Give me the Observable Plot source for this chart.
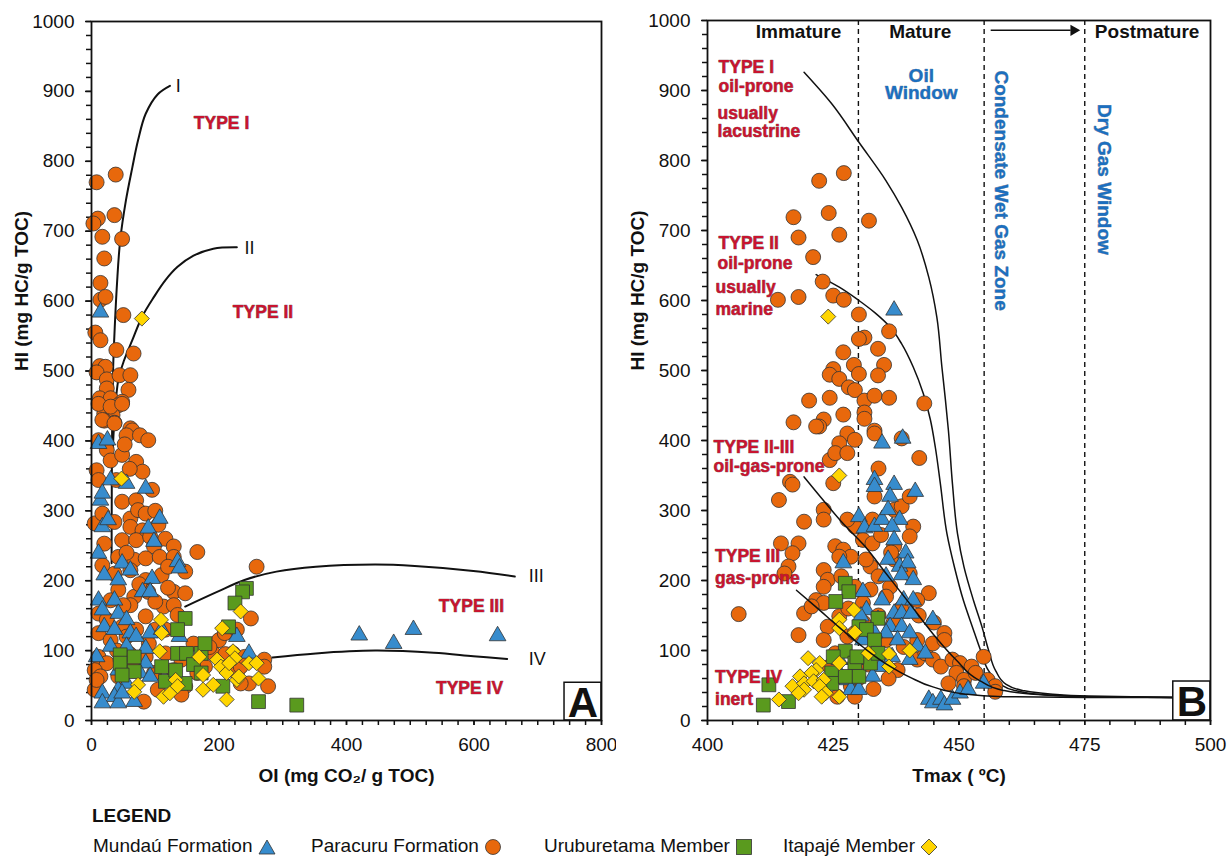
<!DOCTYPE html>
<html><head><meta charset="utf-8">
<script src="https://cdn.jsdelivr.net/npm/d3@7"></script>
<script src="https://cdn.jsdelivr.net/npm/@observablehq/plot@0.6"></script>
<style>
body{margin:0;background:#fff;font-family:"Liberation Sans",Arial,Helvetica,sans-serif;}
#wrap{position:relative;width:1232px;height:858px;overflow:hidden;}
#row{display:flex;position:absolute;left:0;top:0;}
.lg{position:absolute;font-size:19px;color:#111;white-space:nowrap;line-height:1;}
.lg svg{vertical-align:middle;}
</style></head><body>
<div id="wrap"><div id="row"></div>
<div class="lg" style="left:92px;top:806px;font-weight:bold;">LEGEND</div>
<div class="lg" style="left:93px;top:836px;">Mundaú Formation <svg width="18" height="16" viewBox="0 0 18 16"><path d="M9 1 L17 15 L1 15 Z" fill="#378ccd" stroke="#333" stroke-width="0.8"/></svg></div>
<div class="lg" style="left:311px;top:836px;">Paracuru Formation <svg width="18" height="18" viewBox="0 0 18 18"><circle cx="9" cy="9" r="7.5" fill="#e8680c" stroke="#333" stroke-width="0.8"/></svg></div>
<div class="lg" style="left:544px;top:836px;">Uruburetama Member <svg width="18" height="18" viewBox="0 0 18 18"><rect x="1.5" y="1.5" width="15" height="15" fill="#5a9a1e" stroke="#333" stroke-width="0.8"/></svg></div>
<div class="lg" style="left:783px;top:836px;">Itapajé Member <svg width="18" height="18" viewBox="0 0 18 18"><path d="M9 1 L17 9 L9 17 L1 9 Z" fill="#ffd500" stroke="#333" stroke-width="0.8"/></svg></div>
</div>
<script>
// ---------- Panel A data: [OI, HI] ----------
const aMundau = [[14,584],[11,396],[25,401],[30,344],[14,315],[17,325],[17,277],[26,287],[55,339],[85,332],[107,289],[89,275],[98,256],[11,239],[20,208],[42,201],[48,225],[61,215],[95,203],[135,227],[138,218],[80,184],[92,184],[11,172],[36,172],[17,158],[42,153],[55,144],[20,134],[36,130],[61,125],[70,120],[92,125],[110,130],[138,120],[85,103],[55,106],[30,106],[8,91],[85,82],[76,68],[92,63],[42,72],[55,53],[17,39],[42,44],[36,34],[17,25],[42,25],[67,27],[48,39],[228,120],[247,96],[420,122],[474,110],[505,130],[637,121]];
const aParacuru = [[8,770],[38,781],[10,718],[3,711],[36,723],[17,692],[48,689],[20,661],[14,626],[14,602],[22,606],[50,580],[6,555],[14,544],[39,530],[66,525],[13,507],[22,506],[8,498],[24,488],[44,494],[61,494],[58,473],[24,475],[13,461],[30,461],[48,456],[42,451],[20,439],[33,437],[20,429],[36,426],[61,418],
[11,453],[30,449],[48,453],[17,430],[36,425],[64,415],[55,408],[76,408],[89,401],[11,401],[24,387],[30,372],[48,380],[70,370],[8,358],[80,356],[11,344],[39,344],[48,313],[70,315],[5,282],[17,296],[36,284],[61,289],[73,301],[85,296],[61,277],[80,272],[48,258],[70,258],[92,263],[116,260],[98,249],[129,249],[166,241],[20,253],[17,222],[42,234],[67,230],[85,232],[107,234],[129,234],[147,213],[36,210],[61,215],[85,201],[110,208],[42,187],[67,177],[89,184],[129,184],[147,182],[30,172],[61,165],[85,149],[113,163],[129,165],[135,151],[11,153],[24,144],[48,134],[70,130],[116,130],[11,125],[30,115],[55,120],[11,91],[24,82],[5,72],[14,63],[5,44],[8,58],[42,63],[67,77],[85,91],[98,68],[116,96],[141,87],[129,72],[147,49],[141,37],[82,27],[104,44],[166,68],[178,77],[191,96],[200,115],[209,125],[228,130],[222,96],[228,68],[234,77],[247,53],[259,220],[250,146],[271,87],[271,77],[277,49],[240,91],[234,53],
[52,395],[60,360],[95,330],[100,300],[55,240],[105,280],[120,220],[75,195],[100,170],[120,190],[50,165],[40,100],[60,95],[90,110],[100,130],[160,110],[185,105],[210,95]];
const aUruburetama = [[243,189],[237,184],[225,168],[147,146],[135,130],[215,134],[45,94],[45,82],[67,91],[67,70],[48,65],[110,77],[116,56],[135,96],[149,96],[160,80],[172,96],[178,110],[147,53],[132,72],[172,68],[206,49],[262,27],[322,22]];
const aItapaje = [[79,575],[47,346],[109,144],[110,125],[107,99],[73,51],[67,41],[113,34],[123,39],[132,58],[135,49],[169,91],[175,65],[175,44],[191,51],[197,87],[203,77],[205,132],[212,68],[212,30],[222,99],[225,89],[228,58],[234,156],[231,63],[247,82],[259,82],[262,60],[216,82]];
// Kerogen type curves, panel A
const aCurveI = [[31.5,225],[31.8,330],[32.5,434],[34,506],[36,553],[40,625],[45,687],[54,744],[64,791],[73,830],[85,868],[104,896],[123,908]];
const aCurveII = [[33,380],[36,430],[42,487],[51,515],[64,544],[79,577],[98,606],[116,630],[135,649],[160,665],[191,675],[228,677]];
const aCurveIII = [[147,163],[197,184],[240,201],[290,213],[352,220],[445,223],[507,221],[599,214],[664,206]];
const aCurveIV = [[284,90],[352,96],[445,100],[537,97],[599,92],[652,88]];
const aCurveLabels = [{x:132,y:907,t:"I"},{x:240,y:676,t:"II"},{x:686,y:206,t:"III"},{x:686,y:87,t:"IV"}];
const aTypeLabels = [{x:204,y:854,t:"TYPE I"},{x:269,y:584,t:"TYPE II"},{x:596,y:163,t:"TYPE III"},{x:593,y:46,t:"TYPE IV"}];

// ---------- Panel B data: [Tmax, HI] ----------
const bMundau = [[437.1,586],[434.7,396],[438.8,403],[433.2,344],[433.2,334],[437.1,337],[436.3,320],[441.3,327],[430.1,291],[431.2,275],[433.2,277],[434.7,287],[435.9,301],[438.2,287],[436.7,277],[437.1,258],[439.4,239],[435.9,230],[438.2,220],[439.8,225],[435.5,206],[438.6,208],[440.9,201],[430.9,184],[431.6,158],[427.0,225],[434.7,172],[437.1,153],[439.0,172],[440.9,172],[438.6,153],[440.5,153],[444.8,144],[433.9,144],[436.3,134],[438.6,134],[440.2,125],[435.5,125],[433.2,125],[437.8,115],[441.7,106],[443.3,96],[440.2,87],[436.7,91],[434.4,77],[432.8,63],[427.8,58],[428.5,44],[430.1,44],[426.2,68],[429.3,87],[444.0,30],[444.8,25],[446.4,30],[447.1,22],[448.7,30],[450.2,39],[451.8,44],[454.9,53],[426.2,87],[430.9,115],[430.5,149]];
const bParacuru = [[422.2,771],[427.1,782],[417.1,719],[424.1,725],[432.1,714],[418.1,690],[426.2,694],[421.0,662],[422.9,627],[414.0,601],[418.1,605],[425.0,607],[427.1,601],[430.1,580],[431.2,547],[430.1,545],[433.9,531],[436.1,556],[427.0,526],[435.1,508],[425.0,502],[424.3,494],[426.2,488],[429.1,508],[430.1,495],[433.9,493],[428.1,476],[429.3,472],[420.2,457],[424.3,461],[431.2,457],[433.2,464],[436.1,461],[443.1,453],[427.0,437],[431.2,440],[417.1,426],[423.1,430],[422.2,420],[431.2,431],[433.2,414],
[421.6,420],[427.8,410],[426.2,396],[429.3,401],[433.2,410],[438.6,403],[424.3,372],[425.4,382],[427.8,382],[442.1,375],[416.4,341],[416.9,337],[425.0,339],[434.0,360],[414.2,315],[423.1,301],[423.1,287],[419.2,284],[433.2,320],[437.1,301],[438.6,306],[440.2,320],[440.9,277],[440.2,263],[429.3,277],[427.8,287],[432.8,287],[430.9,258],[432.8,253],[425.4,249],[427.0,244],[428.5,234],[426.2,234],[414.6,253],[418.1,253],[416.9,239],[416.1,220],[415.3,210],[423.1,215],[423.9,201],[423.1,191],[426.6,206],[429.3,191],[432.4,220],[434.0,206],[436.3,191],[437.1,230],[437.1,249],[440.2,210],[444.0,182],[441.7,172],[435.5,177],[432.4,187],[430.9,168],[421.6,172],[423.1,168],[419.2,153],[420.7,163],[426.2,149],[423.9,134],[423.1,115],[418.1,122],[406.2,152],[427.8,120],[429.3,125],[425.4,96],[424.3,77],[426.2,63],[425.8,34],[429.3,34],[428.5,49],[432.4,96],[435.5,115],[437.8,72],[441.7,87],[441.7,115],[443.3,96],[444.8,110],[447.1,125],[447.1,115],[444.8,87],[446.4,77],[448.7,87],[450.2,82],[449.5,68],[451.0,58],[447.9,53],[452.5,77],[453.3,68],[454.9,91],[455.7,58],[457.2,49],[457.2,41],[451.0,49],
[434.5,265],[436.5,240],[431.5,230],[438.5,160],[434,150],[428,160],[431,140],[437,140],[442,150],[445,140],[439,105],[432,80],[430,60],[436,60],[433,45]];
const bUruburetama = [[427.4,196],[428.1,184],[425.5,170],[433.9,146],[430.1,134],[431.6,130],[433.2,115],[427.4,99],[425.0,91],[424.7,68],[424.7,53],[429.3,82],[430.1,63],[427.4,63],[432.4,82],[433.9,96],[412.2,51],[411.1,22],[416.1,27],[429.7,91]];
const bItapaje = [[424.0,577],[426.2,350],[429.1,158],[426.2,144],[426.2,132],[429.3,126],[432.0,96],[436.1,95],[440.2,100],[436.1,77],[426.2,82],[420.0,89],[422.3,82],[421.6,72],[418.4,63],[420.7,68],[416.9,49],[419.2,53],[421.1,56],[423.1,58],[422.3,49],[419.2,44],[423.5,39],[422.7,34],[426.2,34],[414.2,30],[418.1,39]];
// Maturation curves, panel B
const bCurveI = [[419.2,926],[424.7,881],[430.1,826],[435.5,771],[438.6,733],[441.7,686],[444.0,633],[445.6,576],[446.6,505],[447.3,458],[447.9,414],[448.7,338],[449.7,267],[451.0,219],[452.9,171],[454.6,133],[455.9,100],[457.3,71],[459.3,52],[462.6,43],[468.1,38],[475.8,35],[492.9,33]];
const bCurveII = [[421.6,637],[426.2,619],[430.1,600],[433.2,583],[436.3,562],[438.6,538],[440.9,505],[442.9,467],[444.3,430],[445.3,390],[446.3,338],[447.6,267],[449.1,219],[450.9,171],[452.7,133],[454.3,100],[455.9,71],[458.2,52],[461.1,43],[466.5,37],[475.8,34],[492.9,33]];
const bCurveIIIII = [[419.2,348],[423.1,314],[427.0,281],[430.9,252],[435.5,210],[440.2,167],[444.8,124],[449.5,86],[454.1,57],[458.8,43],[464.2,38],[475,34],[492.9,33]];
const bCurveIII = [[417.7,186],[421.6,162],[426.2,133],[430.9,105],[435.5,81],[440.2,62],[444.8,48],[451.0,38],[458.8,34],[475,33],[492.9,33]];
const bZoneBounds = [430, 455, 475];
const bZoneLabels = [{x:418.1,y:983,t:"Immature"},{x:442.3,y:983,t:"Mature"},{x:487.4,y:983,t:"Postmature"}];
const bBlueLabels = [{x:442.5,y:921,t:"Oil",r:0},{x:442.5,y:896,t:"Window",r:0},{x:458.3,y:757,t:"Condensate Wet Gas Zone",r:90},{x:478.9,y:773,t:"Dry Gas Window",r:90}];
const bRedLabels = [{x:402.2,y:933,t:"TYPE I"},{x:402.2,y:906,t:"oil-prone"},{x:402.0,y:868,t:"usually"},{x:402.0,y:842,t:"lacustrine"},
{x:402.2,y:681,t:"TYPE II"},{x:402.0,y:653,t:"oil-prone"},{x:401.6,y:619,t:"usually"},{x:401.6,y:588,t:"marine"},
{x:401.2,y:390,t:"TYPE II-III"},{x:401.2,y:363,t:"oil-gas-prone"},{x:401.5,y:234,t:"TYPE III"},{x:401.5,y:203,t:"gas-prone"},
{x:401.5,y:62,t:"TYPE IV"},{x:401.5,y:30,t:"inert"}];

const FONT = '"Liberation Sans", Arial, Helvetica, sans-serif';
const C = {mundau:"#378ccd", paracuru:"#e8680c", urub:"#5a9a1e", itap:"#ffd500", red:"#c8142f", blue:"#1c6fbf"};
const dotStyle = {stroke:"#333", strokeWidth:0.8};
const redText = {fill:C.red, stroke:"#3b0a12", strokeWidth:0.7, strokeOpacity:0.7, fontWeight:"bold", fontSize:17.5};
const blueText = {fill:C.blue, stroke:"#0b2a4a", strokeWidth:0.6, strokeOpacity:0.6, fontWeight:"bold", fontSize:19};

function scatter(mu, pa, ur, it) {
  return [
    Plot.dot(pa, {x:d=>d[0], y:d=>d[1], r:7.5, symbol:"circle", fill:C.paracuru, ...dotStyle}),
    Plot.dot(mu, {x:d=>d[0], y:d=>d[1], r:6.2, symbol:"triangle", fill:C.mundau, ...dotStyle}),
    Plot.dot(ur, {x:d=>d[0], y:d=>d[1], r:7.8, symbol:"square", fill:C.urub, ...dotStyle}),
    Plot.dot(it, {x:d=>d[0], y:d=>d[1], r:6.8, symbol:"diamond2", fill:C.itap, ...dotStyle})
  ];
}
function axes(xMajor, xMinor) {
  return [
    Plot.axisY(d3.range(0,1001,20), {tickSize:5, tickFormat:()=>"", strokeWidth:1.5, label:null}),
    Plot.axisY(d3.range(0,1001,100), {tickSize:6, tickPadding:11, strokeWidth:1.5, fontSize:19, tickFormat:d=>String(d), label:null}),
    Plot.axisX(xMinor, {tickSize:5, tickFormat:()=>"", strokeWidth:1.5, label:null}),
    Plot.axisX(xMajor, {tickSize:5, tickPadding:12, strokeWidth:1.5, fontSize:19, tickFormat:d=>String(d), label:null})
  ];
}
const lineA = (data) => Plot.line(data, {x:d=>d[0], y:d=>d[1], curve:"catmull-rom", stroke:"#111", strokeWidth:2});
const lineB = (data) => Plot.line(data, {x:d=>d[0], y:d=>d[1], curve:"monotone-y", stroke:"#111", strokeWidth:1.5});

const plotA = Plot.plot({
  width:616, height:790, marginLeft:91, marginRight:15, marginTop:21, marginBottom:70,
  x:{domain:[0,800]}, y:{domain:[0,1000]},
  style:{fontFamily:FONT, fontSize:"19px", color:"#111", background:"white"},
  marks:[
    ...axes(d3.range(0,801,200), d3.range(0,801,25)),
    lineA(aCurveI), lineA(aCurveII), lineA(aCurveIII), lineA(aCurveIV),
    ...scatter(aMundau, aParacuru, aUruburetama, aItapaje),
    Plot.text(aCurveLabels, {x:"x", y:"y", text:"t", textAnchor:"start", fontSize:18, fill:"#111"}),
    Plot.text(aTypeLabels, {x:"x", y:"y", text:"t", ...redText}),
    Plot.rect([{x1:742,x2:800,y1:0,y2:54}], {x1:"x1",x2:"x2",y1:"y1",y2:"y2", fill:"white", stroke:"#111", strokeWidth:1.5}),
    Plot.text(["A"], {x:[771], y:[27], fontSize:42, fontWeight:"bold", fill:"#111", dy:2}),
    Plot.frame({stroke:"#111", strokeWidth:1.8}),
    Plot.text(["HI (mg HC/g TOC)"], {frameAnchor:"left", dx:-70, rotate:-90, fontWeight:"bold", fontSize:19, fill:"#111"}),
    Plot.text(["OI (mg CO\u2082/ g TOC)"], {frameAnchor:"bottom", dy:61, fontWeight:"bold", fontSize:19, fill:"#111"})
  ]
});

const plotB = Plot.plot({
  width:616, height:790, marginLeft:91, marginRight:22, marginTop:20, marginBottom:70,
  x:{domain:[400,500]}, y:{domain:[0,1000]},
  style:{fontFamily:FONT, fontSize:"19px", color:"#111", background:"white"},
  marks:[
    ...axes(d3.range(400,501,25), d3.range(400,501,5)),
    Plot.ruleX(bZoneBounds, {stroke:"#111", strokeWidth:1.4, strokeDasharray:"5,4"}),
    Plot.link([{x1:456.3,x2:472.2,y:986}], {x1:"x1", x2:"x2", y1:"y", y2:"y", stroke:"#111", strokeWidth:1.5}),
    Plot.dot([{x:472.8,y:986}], {x:"x", y:"y", symbol:"triangle", r:4.2, rotate:90, fill:"#111"}),
    lineB(bCurveI), lineB(bCurveII),
    ...scatter(bMundau, bParacuru, bUruburetama, bItapaje),
    lineB(bCurveIIIII), lineB(bCurveIII),
    Plot.text(bZoneLabels, {x:"x", y:"y", text:"t", fontWeight:"bold", fontSize:19, fill:"#111"}),
    Plot.text(bBlueLabels, {x:"x", y:"y", text:"t", rotate:"r", ...blueText}),
    Plot.text(bRedLabels, {x:"x", y:"y", text:"t", textAnchor:"start", ...redText}),
    Plot.rect([{x1:492.6,x2:500,y1:0,y2:55.7}], {x1:"x1",x2:"x2",y1:"y1",y2:"y2", fill:"white", stroke:"#111", strokeWidth:1.5}),
    Plot.text(["B"], {x:[496.3], y:[28], fontSize:42, fontWeight:"bold", fill:"#111", dy:2}),
    Plot.frame({stroke:"#111", strokeWidth:1.8}),
    Plot.text(["HI (mg HC/g TOC)"], {frameAnchor:"left", dx:-70, rotate:-90, fontWeight:"bold", fontSize:19, fill:"#111"}),
    Plot.text(["Tmax ( \u00baC)"], {frameAnchor:"bottom", dy:61, fontWeight:"bold", fontSize:19, fill:"#111"})
  ]
});

document.getElementById("row").append(plotA, plotB);
</script>
</body></html>
